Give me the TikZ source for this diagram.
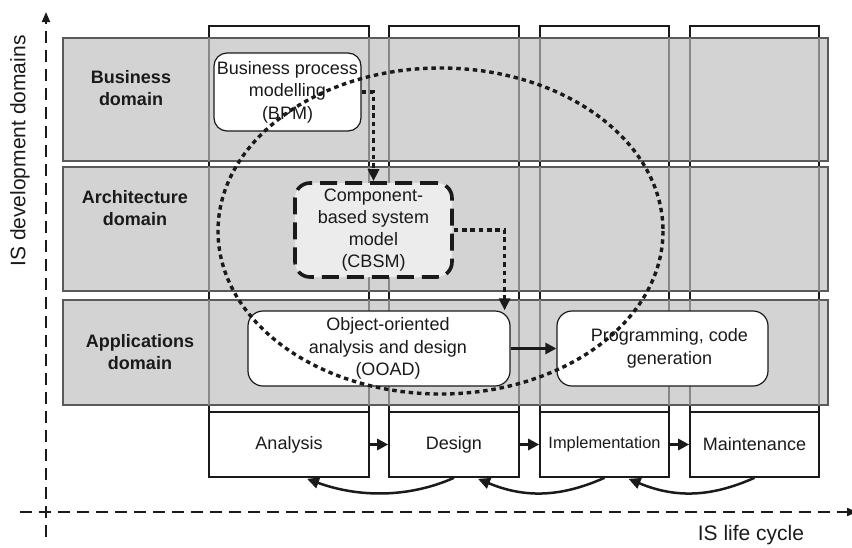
\documentclass[tikz,border=0pt]{standalone}
\usepackage{fontspec}
\setmainfont{Liberation Sans}
\usetikzlibrary{arrows.meta,calc}
\definecolor{bandgray}{HTML}{D3D3D3}
\definecolor{bandline}{HTML}{5A5A5A}
\definecolor{gridline}{HTML}{888888}
\definecolor{cbsmfill}{HTML}{ECECEC}
\definecolor{ink}{HTML}{1A1A1A}

\begin{document}
\begin{tikzpicture}[x=1pt,y=-1pt,
  txt/.style={font=\fontsize{18}{22.5}\selectfont, text=ink, align=center},
  dom/.style={font=\fontsize{18}{22}\selectfont\bfseries, text=ink, align=center},
  axislabel/.style={font=\fontsize{21}{25}\selectfont, text=ink},
  band/.style={fill=bandgray, draw=bandline, line width=1.2pt},
  column/.style={fill=white, draw=ink, line width=1.6pt},
  phasebox/.style={draw=ink, line width=1.6pt, fill=white, inner sep=0pt,
    minimum height=65pt, txt},
  roundbox/.style={draw=ink, line width=1.2pt, fill=white, rounded corners=13pt,
    inner sep=0pt, txt},
  dotline/.style={draw=ink, line width=3.4pt, dash pattern=on 4.5pt off 3.8pt},
  dottip/.style={-{Triangle[length=12pt,width=11pt]}},
  solidarrow/.style={draw=ink, line width=2.8pt, -{Triangle[length=11pt,width=11pt]}},
  backarrow/.style={draw=ink, line width=2.5pt, -{Triangle[length=12pt,width=11pt]}},
  axis/.style={draw=ink, line width=2pt, dash pattern=on 12pt off 7pt},
]
\useasboundingbox (0,0) rectangle (852,547);

% life-cycle columns running behind the domain bands
\foreach \l/\r in {209/369, 389/519, 540/669, 690/819}
  \draw[column] (\l,26) rectangle (\r,477);

% domain bands
\draw[band] (63,38) rectangle (828,161);
\draw[band] (63,167) rectangle (828,291);
\draw[band] (63,300) rectangle (828,405);

% column edges seen through the bands
\foreach \x in {209,369,389,519,540,669,690,819}{
  \draw[gridline, line width=1.3pt] (\x,38) -- (\x,161);
  \draw[gridline, line width=1.3pt] (\x,167) -- (\x,291);
  \draw[gridline, line width=1.3pt] (\x,300) -- (\x,405);
}

% domain names
\node[dom] (dbus) at (131,88) {Business\\domain};
\node[dom] (darch) at (135,208.5) {Architecture\\domain};
\node[dom] (dapp) at (140,352.5) {Applications\\domain};

% life-cycle phases
\node[phasebox, minimum width=160pt] (p1) at (289,444.5) {Analysis};
\node[phasebox, minimum width=130pt] (p2) at (454,444.5) {Design};
\node[phasebox, minimum width=129pt, font=\fontsize{16.4}{20}\selectfont] (p3) at (604.5,444.5) {Implementation};
\node[phasebox, minimum width=129pt] (p4) at (754.5,444.5) {Maintenance};

\draw[solidarrow] (p1.east) -- (p2.west);
\draw[solidarrow] (p2.east) -- (p3.west);
\draw[solidarrow] (p3.east) -- (p4.west);

% feedback arcs under the phases
\draw[backarrow] (p2.south) .. controls ($(p2.south)+(-45,20)$) and ($(p1.south)+(70,20)$) .. ($(p1.south)+(18,1)$);
\draw[backarrow] (p3.south) .. controls ($(p3.south)+(-45,20)$) and ($(p2.south)+(70,20)$) .. ($(p2.south)+(24,1)$);
\draw[backarrow] (p4.south) .. controls ($(p4.south)+(-45,20)$) and ($(p3.south)+(70,20)$) .. ($(p3.south)+(24,1)$);

% modelling activities
\node[roundbox, minimum width=147pt, minimum height=78pt] (bpm) at (287.5,92)
  {Business process\\modelling\\(BPM)};
\node[roundbox, fill=cbsmfill, line width=3.6pt, dash pattern=on 17pt off 8pt,
  rounded corners=15pt, minimum width=157pt, minimum height=94pt,
  font=\fontsize{18}{22}\selectfont] (cbsm) at (373.5,230)
  {Component-\\based system\\model\\(CBSM)};
\node[roundbox, rounded corners=15pt, minimum width=262pt, minimum height=75pt] (ooad) at (379,348.5)
  {\hspace*{18pt}Object-oriented\\\hspace*{18pt}analysis and design\\\hspace*{18pt}(OOAD)};
\node[roundbox, rounded corners=15pt, minimum width=211pt, minimum height=75pt] (prog) at (662.5,348.5)
  {\hspace*{14pt}Programming, code\\\hspace*{14pt}generation};

% scope of the component-based approach
\draw[dotline] (440.5,231) ellipse [x radius=222.5, y radius=163];

% flow between the activities
\draw[dotline, dottip] (bpm.east) -| (cbsm.north);
\draw[dotline, dottip] (cbsm.east) -| ([xshift=-6pt]ooad.north east);
\draw[solidarrow] (ooad.east) -- (prog.west);

% axes
\coordinate (vbot) at (46,537);
\coordinate (vtop) at (46,12);
\coordinate (hleft) at (20,512);
\coordinate (hright) at (857,512);
\draw[axis, -{Triangle[length=10pt,width=8pt]}] (vbot) -- (vtop);
\draw[axis, -{Triangle[length=10pt,width=8pt]}] (hleft) -- (hright);

\node[axislabel, rotate=90] (ylab) at (20,151) {IS development domains};
\node[axislabel] (xlab) at (751,535) {IS life cycle};
\end{tikzpicture}
\end{document}
